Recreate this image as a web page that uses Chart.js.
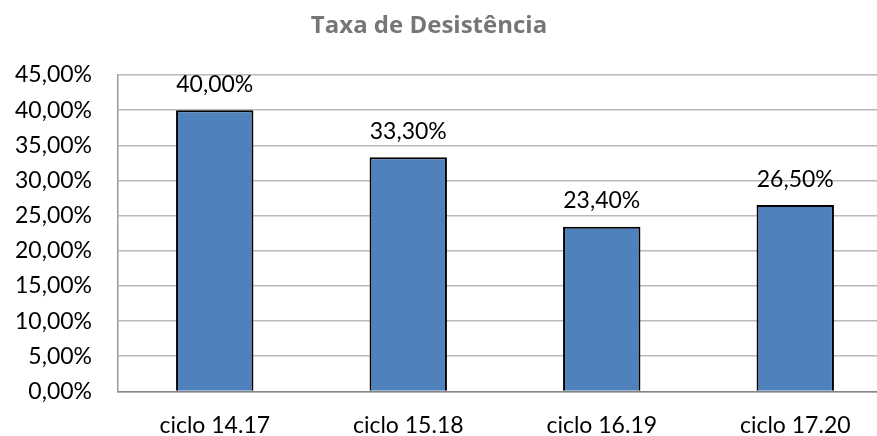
<!DOCTYPE html>
<html>
<head>
<meta charset="utf-8">
<script src="https://cdn.jsdelivr.net/npm/chart.js@4/dist/chart.umd.min.js"></script>
<style>
  html, body { margin: 0; padding: 0; background: #fff; overflow: hidden; }
</style>
</head>
<body>
<!-- the original picture is cropped on the right and bottom, so the canvas is a bit bigger than the window -->
<canvas id="myChart" width="892" height="460"></canvas>
<script>
const ciclos = ["ciclo 14.17", "ciclo 15.18", "ciclo 16.19", "ciclo 17.20"];
const taxaDesistencia = [40.0, 33.3, 23.4, 26.5];
const yTicks = [0, 5, 10, 15, 20, 25, 30, 35, 40, 45];
const chartTitle = "Taxa de Desistência";

const fmt = function (v) {
  return v.toFixed(2).replace(".", ",") + "%";
};

const FONT = "Lato, 'Open Sans', sans-serif";

// title (sits a bit left of centre in the original) + value labels above bars
const extras = {
  id: "extras",
  afterDatasetsDraw(chart) {
    const c = chart.ctx;
    c.save();
    c.font = "bold 24px 'Open Sans', sans-serif";
    c.fillStyle = "#767676";
    c.textAlign = "center";
    c.textBaseline = "alphabetic";
    c.fillText(chartTitle, 429, 33);

    c.font = "23px " + FONT;
    c.fillStyle = "#000";
    const meta = chart.getDatasetMeta(0);
    meta.data.forEach(function (bar, i) {
      c.fillText(fmt(taxaDesistencia[i]), bar.x, bar.y - 18.5);
    });
    c.restore();
  },
};

const ctx = document.getElementById("myChart").getContext("2d");
const myChart = new Chart(ctx, {
  type: "bar",
  data: {
    labels: ciclos,
    datasets: [
      {
        label: chartTitle,
        data: taxaDesistencia,
        backgroundColor: "#4F81BD",
        borderColor: "#000",
        borderWidth: 2,
        borderSkipped: "bottom",
        barPercentage: 0.4,
        categoryPercentage: 1,
      },
    ],
  },
  options: {
    responsive: false,
    animation: false,
    layout: {
      padding: { left: 0, right: 0, top: 75, bottom: 1 },
    },
    scales: {
      x: {
        grid: { display: false, drawTicks: false },
        border: { color: "#868686", width: 1.5 },
        ticks: {
          color: "#000",
          font: { family: FONT, size: 23 },
          padding: 20,
        },
      },
      y: {
        min: 0,
        max: 45,
        afterBuildTicks(scale) {
          scale.ticks = yTicks.map(function (v) { return { value: v }; });
        },
        afterFit(scale) {
          scale.width = 118;
        },
        grid: { color: "#BABABA", lineWidth: 1.5, drawTicks: false },
        border: { color: "#9a9a9a", width: 1.5 },
        ticks: {
          color: "#000",
          font: { family: FONT, size: 23 },
          padding: 26,
          callback: function (v) { return fmt(v); },
        },
      },
    },
    plugins: {
      legend: { display: false },
      tooltip: { enabled: false },
      title: { display: false },
    },
  },
  plugins: [extras],
});
</script>
</body>
</html>
